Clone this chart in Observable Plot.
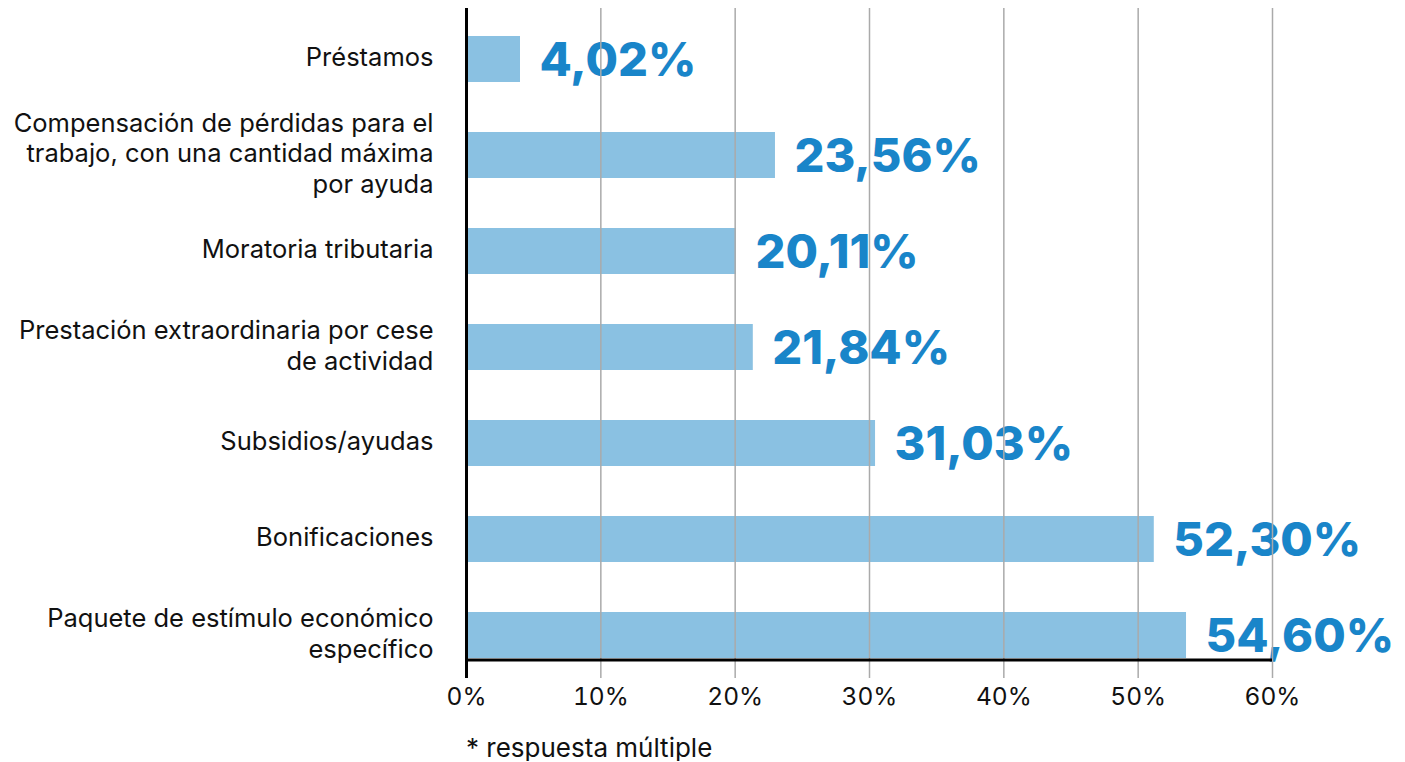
<!DOCTYPE html>
<html>
<head>
<meta charset="utf-8">
<script src="https://cdn.jsdelivr.net/npm/d3@7"></script>
<script src="https://cdn.jsdelivr.net/npm/@observablehq/plot@0.6"></script>
<style>
  html, body { margin: 0; padding: 0; background: #fff; }
  #chart svg { display: block; }
  .caption { font-family: Inter, sans-serif; font-size: 26px; color: #111; margin: 0 0 0 466px; line-height: 1; padding-top: 10px; }
</style>
</head>
<body>
<div id="chart"></div>
<div class="caption">* respuesta múltiple</div>
<script>
const categories = [
  "Préstamos",
  "Compensación de pérdidas para el\ntrabajo, con una cantidad máxima\npor ayuda",
  "Moratoria tributaria",
  "Prestación extraordinaria por cese\nde actividad",
  "Subsidios/ayudas",
  "Bonificaciones",
  "Paquete de estímulo económico\nespecífico"
];
// bar lengths as drawn in the picture (%)
const barValues = [4.02, 23.0, 20.1, 21.35, 30.45, 51.2, 53.6];
// value labels as printed
const valueLabels = ["4,02%", "23,56%", "20,11%", "21,84%", "31,03%", "52,30%", "54,60%"];
const xTicks = [0, 10, 20, 30, 40, 50, 60];

const data = categories.map((c, i) => ({cat: c, value: barValues[i], label: valueLabels[i]}));

const W = 1405, H = 725;
const plot = Plot.plot({
  width: W,
  height: H,
  marginLeft: 466,
  marginRight: 133,
  marginTop: 8,
  marginBottom: 65,
  style: {fontFamily: "Inter, sans-serif", background: "#fff", overflow: "visible"},
  x: {domain: [0, 60], axis: null, label: null},
  y: {domain: categories, range: [34, 659], paddingInner: 0.5233, paddingOuter: 0, axis: null},
  marks: [
    Plot.barX(data, {x: "value", y: "cat", fill: "#8ac1e2"}),
    Plot.text(data, {
      x: "value", y: "cat", text: "label", textAnchor: "start", dx: 19, dy: 1,
      fill: "#1985c9", fontSize: 47, fontWeight: 800
    }),
    Plot.text(data, {
      text: "cat", y: "cat", frameAnchor: "left", textAnchor: "end", dx: -33, dy: -3,
      fill: "#111", fontSize: 25.5, lineHeight: 1.2
    }),
    Plot.ruleX(xTicks.slice(1), {stroke: "#aaaaaa", strokeWidth: 1.5, insetBottom: -18}),
    Plot.axisX(xTicks, {tickSize: 0, tickPadding: 27, fontSize: 24.5, fill: "#111", label: null, tickFormat: d => d + "%"}),
    Plot.ruleX([0], {stroke: "#000", strokeWidth: 3, insetBottom: -18}),
    (index, scales, values, dims) => {
      const y = dims.height - dims.marginBottom;
      return d3.create("svg:line")
        .attr("x1", scales.x(0)).attr("x2", scales.x(60))
        .attr("y1", y).attr("y2", y)
        .attr("stroke", "#000").attr("stroke-width", 3)
        .node();
    }
  ]
});
document.getElementById("chart").appendChild(plot);
</script>
</body>
</html>
